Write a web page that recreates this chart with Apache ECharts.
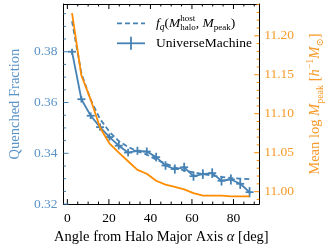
<!DOCTYPE html>
<html><head><meta charset="utf-8">
<script src="https://cdn.jsdelivr.net/npm/echarts@6/dist/echarts.min.js"></script>
<style>html,body{margin:0;padding:0;background:#fff}#c{width:333px;height:250px}</style>
</head><body><div id="c"></div>
<script>
const angles = [2.25,6.75,11.25,15.75,20.25,24.75,29.25,33.75,38.25,42.75,47.25,51.75,56.25,60.75,65.25,69.75,74.25,78.75,83.25,87.75];
const umFrac = [0.3800,0.3613,0.3548,0.3503,0.3464,0.3430,0.3403,0.3410,0.3407,0.3385,0.3352,0.3338,0.3345,0.3310,0.3318,0.3322,0.3292,0.3297,0.3280,0.3247];
const umErr = [0.0012,0.0013,0.0013,0.0014,0.0014,0.0015,0.0015,0.0016,0.0016,0.0017,0.0017,0.0018,0.0018,0.0018,0.0019,0.0019,0.0019,0.0020,0.0020,0.0020];
const fqModel = [0.3920,0.3715,0.3610,0.3535,0.3485,0.3448,0.3425,0.3408,0.3395,0.3375,0.3360,0.3345,0.3332,0.3325,0.3318,0.3312,0.3307,0.3303,0.3300,0.3298];
const meanLogMpeak = [11.229,11.149,11.118,11.082,11.062,11.050,11.039,11.028,11.023,11.014,11.009,11.006,11.003,10.998,10.995,10.995,10.995,10.994,10.994,10.994];
const xMajorTicks = [0,20,40,60,80];
const xMinorTicks = [5,10,15,25,30,35,45,50,55,65,70,75,85,90];
const leftMajorTicks = [0.32,0.34,0.36,0.38];
const leftMinorTicks = [0.325,0.33,0.335,0.345,0.35,0.355,0.365,0.37,0.375,0.385,0.39,0.395];
const rightMajorTicks = [11.00,11.05,11.10,11.15,11.20];
const rightMinorTicks = [10.99,11.01,11.02,11.03,11.04,11.06,11.07,11.08,11.09,11.11,11.12,11.13,11.14,11.16,11.17,11.18,11.19,11.21,11.22,11.23,11.24];

const BLUE = '#4682b4', BLUE_T = '#5a93c8', ORANGE = '#ff8c00', ORANGE_T = '#f79a2a';
const FONT = '"Liberation Serif", "DejaVu Serif", serif';
const FS = 13.5, FT = 14.5;
const MAJ = 5, MIN = 2.5;

const chart = echarts.init(document.getElementById('c'), null, {renderer: 'canvas'});

const xAxes = [{
  type:'value', min:-1.85, max:92.4, position:'bottom',
  axisLine:{show:true, onZero:false, lineStyle:{color:'#000', width:1}},
  axisTick:{show:false},
  axisLabel:{show:true, customValues:xMajorTicks, color:'#000', fontFamily:FONT, fontSize:FS, margin:7},
  splitLine:{show:false},
  name:'{t|Angle from Halo Major Axis }{i|α}{t| [deg]}', nameLocation:'middle', nameGap:25,
  nameTextStyle:{rich:{t:{fontFamily:FONT, fontSize:FT, color:'#000'}, i:{fontFamily:FONT, fontSize:FT, fontStyle:'italic', color:'#000'}}}
}, {
  type:'value', min:-1.85, max:92.4, position:'top',
  axisLine:{show:true, onZero:false, lineStyle:{color:'#000', width:1}},
  axisTick:{show:false}, axisLabel:{show:false}, splitLine:{show:false}
}];
const yAxes = [{
  type:'value', min:0.32, max:0.3988, position:'left',
  axisLine:{show:true, onZero:false, lineStyle:{color:'#000', width:1}},
  axisTick:{show:false},
  axisLabel:{show:true, customValues:leftMajorTicks, color:BLUE_T, fontFamily:FONT, fontSize:FS, margin:6, formatter:v => v.toFixed(2)},
  splitLine:{show:false},
  name:'Quenched Fraction', nameLocation:'middle', nameGap:35, nameRotate:90,
  nameTextStyle:{fontFamily:FONT, fontSize:FT, color:BLUE_T}
}, {
  type:'value', min:10.984, max:11.2408, position:'right',
  axisLine:{show:true, onZero:false, lineStyle:{color:'#000', width:1}},
  axisTick:{show:false},
  axisLabel:{show:true, customValues:rightMajorTicks, color:ORANGE_T, fontFamily:FONT, fontSize:FS, margin:5, formatter:v => v.toFixed(2)},
  splitLine:{show:false},
  name:'{t|Mean log }{i|M}{sb|peak}{t| [}{i|h}{sp|−1}{i|M}{sb|⊙}{t|]}', nameLocation:'middle', nameGap:40, nameRotate:90,
  nameTextStyle:{rich:{
    t:{fontFamily:FONT, fontSize:FT, color:ORANGE_T, lineHeight:20},
    i:{fontFamily:FONT, fontSize:FT, fontStyle:'italic', color:ORANGE_T, lineHeight:20},
    sb:{fontFamily:FONT, fontSize:10, color:ORANGE_T, verticalAlign:'bottom', lineHeight:14},
    sp:{fontFamily:FONT, fontSize:10, color:ORANGE_T, verticalAlign:'top', lineHeight:14}
  }}
}];

// tick marks drawn through the axes' scales
function xTickSeries(vals, len) {
  return {type:'custom', xAxisIndex:0, yAxisIndex:0, z:10, silent:true, clip:false,
    data:vals.map(v => [v]),
    renderItem:(params, api) => {
      const cs = params.coordSys; const x = api.coord([api.value(0), 0.35])[0];
      return {type:'group', children:[
        {type:'line', shape:{x1:x, y1:cs.y+cs.height, x2:x, y2:cs.y+cs.height-len}, style:{stroke:'#000', lineWidth:1}},
        {type:'line', shape:{x1:x, y1:cs.y, x2:x, y2:cs.y+len}, style:{stroke:'#000', lineWidth:1}}
      ]};
    }};
}
function yTickSeries(vals, len, axisIdx, color, side) {
  return {type:'custom', xAxisIndex:0, yAxisIndex:axisIdx, z:10, silent:true, clip:false,
    data:vals.map(v => [0, v]),
    renderItem:(params, api) => {
      const cs = params.coordSys; const y = api.coord([0, api.value(1)])[1];
      const x0 = side === 'left' ? cs.x : cs.x + cs.width;
      const x1 = side === 'left' ? x0 + len : x0 - len;
      return {type:'line', shape:{x1:x0, y1:y, x2:x1, y2:y}, style:{stroke:color, lineWidth:1}};
    }};
}

const cv = document.createElement('canvas').getContext('2d');
function meas(t, size, it) { cv.font = (it ? 'italic ' : '') + size + 'px ' + FONT; return cv.measureText(t).width; }
function richLine(parts, x0, yc, color) {
  const els = []; let x = x0;
  parts.forEach(p => {
    if (p.stack) {
      let w = 0;
      p.stack.forEach(s => {
        els.push({type:'text', x:x, y:yc + s.dy, style:{text:s.t, font:(s.it?'italic ':'') + s.size + 'px ' + FONT, fill:color, textVerticalAlign:'middle'}});
        w = Math.max(w, meas(s.t, s.size, s.it));
      });
      x += w;
    } else {
      els.push({type:'text', x:x, y:yc + (p.dy || 0), style:{text:p.t, font:(p.it?'italic ':'') + p.size + 'px ' + FONT, fill:color, textVerticalAlign:'middle'}});
      x += meas(p.t, p.size, p.it);
    }
  });
  return els;
}
const L1y = 23.3, L2y = 43.3, LX0 = 117, LX1 = 145, LT = 156;
const legendEls = [].concat(
  [{type:'line', shape:{x1:LX0, y1:L1y, x2:LX1, y2:L1y}, style:{stroke:BLUE, lineWidth:1.8, lineDash:[5,3]}},
   {type:'line', shape:{x1:LX0, y1:L2y, x2:LX1, y2:L2y}, style:{stroke:BLUE, lineWidth:1.8}},
   {type:'line', shape:{x1:(LX0+LX1)/2, y1:L2y-6.5, x2:(LX0+LX1)/2, y2:L2y+6.5}, style:{stroke:BLUE, lineWidth:1.8}}],
  richLine([
    {t:'f', size:FS, it:true},
    {t:'q', size:9.5, it:true, dy:4},
    {t:'(', size:FS},
    {t:'M', size:FS, it:true},
    {stack:[{t:'host', size:9, dy:-5}, {t:'halo', size:9, dy:4}]},
    {t:', ', size:FS},
    {t:'M', size:FS, it:true},
    {t:'peak', size:9, dy:4},
    {t:')', size:FS}
  ], LT, L1y, '#000'),
  richLine([{t:'UniverseMachine', size:FS}], LT, L2y, '#000')
);

const pts = (ys) => angles.map((a, i) => [a, ys[i]]);

chart.setOption({
  animation:false,
  backgroundColor:'#fff',
  grid:{left:52, right:61, top:4, bottom:43, containLabel:false},
  xAxis:xAxes,
  yAxis:yAxes,
  series:[
    {type:'line', name:'fq', xAxisIndex:0, yAxisIndex:0, data:pts(fqModel), symbol:'none', z:3,
     lineStyle:{color:BLUE, width:1.8, type:[5,3]}},
    {type:'line', name:'UM', xAxisIndex:0, yAxisIndex:0, data:pts(umFrac), symbol:'none', z:3,
     lineStyle:{color:BLUE, width:1.8}},
    {type:'custom', name:'UMerr', xAxisIndex:0, yAxisIndex:0, z:4,
     data:angles.map((a, i) => [a, umFrac[i], umErr[i]]),
     renderItem:(params, api) => {
       const x = api.value(0), y = api.value(1), e = api.value(2);
       const lo = api.coord([x, y - e]), hi = api.coord([x, y + e]), c = api.coord([x, y]);
       return {type:'group', children:[
         {type:'line', shape:{x1:lo[0], y1:lo[1], x2:hi[0], y2:hi[1]}, style:{stroke:BLUE, lineWidth:1.8}},
         {type:'line', shape:{x1:c[0]-4, y1:c[1], x2:c[0]+4, y2:c[1]}, style:{stroke:BLUE, lineWidth:1.8}}
       ]};
     }},
    {type:'line', name:'Mpeak', xAxisIndex:0, yAxisIndex:1, data:pts(meanLogMpeak), symbol:'none', z:5,
     lineStyle:{color:ORANGE, width:1.8}},
    xTickSeries(xMajorTicks, MAJ),
    xTickSeries(xMinorTicks, MIN),
    yTickSeries(leftMajorTicks, MAJ, 0, BLUE, 'left'),
    yTickSeries(leftMinorTicks, MIN, 0, BLUE, 'left'),
    yTickSeries(rightMajorTicks, MAJ, 1, ORANGE, 'right'),
    yTickSeries(rightMinorTicks, MIN, 1, ORANGE, 'right')
  ],
  graphic:legendEls
});
</script></body></html>
